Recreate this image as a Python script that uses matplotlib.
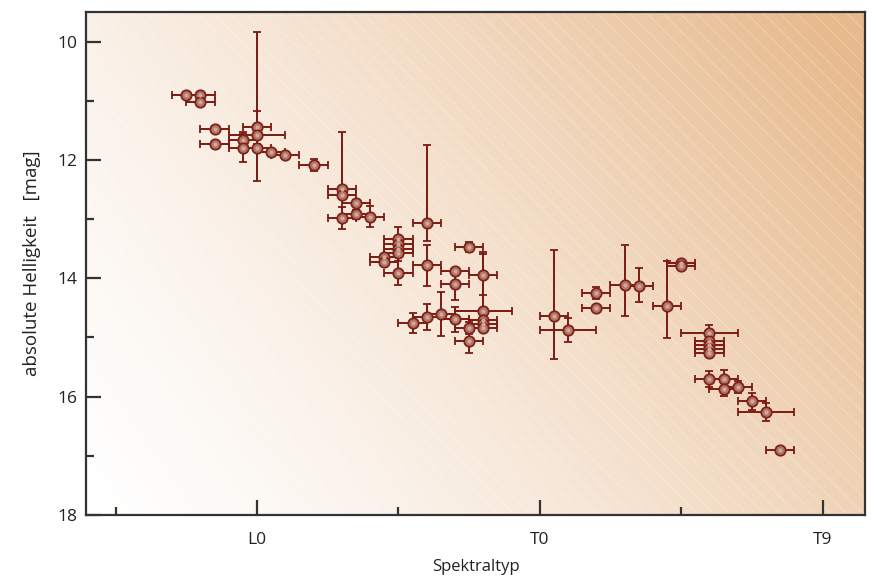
import numpy as np
import matplotlib
matplotlib.use("Agg")
import matplotlib.pyplot as plt
from matplotlib.patches import Rectangle

plt.rcParams['font.family'] = ['Open Sans', 'DejaVu Sans']
plt.rcParams['hatch.linewidth'] = 0.6

# spectral type (L0 = 0, T0 = 10), absolute magnitude, errors
spt = [-2.5, -2.0, -2.0, -1.5, -1.5, -0.5, -0.5, 0.0, 0.0, 0.0, 0.5, 1.0, 2.0,
       3.0, 3.0, 3.0, 3.5, 3.5, 4.0, 4.5, 4.5, 5.0, 5.0, 5.0, 5.0, 5.0,
       6.0, 6.0, 7.5, 7.0, 7.0, 8.0,
       5.5, 6.0, 6.5, 7.0, 7.5, 7.5, 8.0, 8.0, 8.0, 8.0,
       10.5, 11.0, 12.0, 12.0, 13.0, 13.5, 14.5, 15.0, 15.0,
       16.0, 16.0, 16.0, 16.0, 16.0, 16.0, 16.5, 16.5, 17.0, 17.5, 18.0, 18.5]
mag = [10.90, 10.90, 11.02, 11.47, 11.73, 11.67, 11.80, 11.45, 11.58, 11.79, 11.86, 11.91, 12.08,
       12.49, 12.60, 12.98, 12.73, 12.92, 12.96, 13.64, 13.72, 13.33, 13.42, 13.50, 13.57, 13.91,
       13.07, 13.78, 13.47, 13.87, 14.09, 13.94,
       14.76, 14.66, 14.60, 14.69, 14.84, 15.06, 14.56, 14.70, 14.77, 14.84,
       14.63, 14.87, 14.25, 14.50, 14.11, 14.13, 14.47, 13.74, 13.79,
       14.92, 15.06, 15.13, 15.20, 15.26, 15.70, 15.70, 15.87, 15.83, 16.08, 16.26, 16.91]
spt_err = [0.5, 0.5, 0.5, 0.5, 0.5, 0.5, 0.5, 0.5, 1.0, 0.5, 0.5, 0.5, 0.5,
           0.5, 0.5, 0.5, 0.5, 0.5, 0.5, 0.5, 0.5, 0.5, 0.5, 0.5, 0.5, 0.5,
           0.5, 0.5, 0.5, 0.5, 0.5, 0.5,
           0.5, 0.5, 0.5, 0.5, 0.5, 0.5, 1.0, 0.5, 0.5, 0.5,
           0.5, 1.0, 0.5, 0.5, 0.5, 0.5, 0.5, 0.5, 0.5,
           1.0, 0.5, 0.5, 0.5, 0.5, 0.5, 0.5, 0.5, 0.5, 0.5, 1.0, 0.5]
mag_err_up = [0.05, 0.05, 0.05, 0.05, 0.05, 0.15, 0.24, 0.28, 0.05, 1.96, 0.05, 0.05, 0.10,
              0.97, 0.05, 0.18, 0.05, 0.07, 0.18, 0.05, 0.05, 0.20, 0.05, 0.05, 0.05, 0.20,
              1.33, 0.35, 0.08, 0.05, 0.27, 0.35,
              0.17, 0.22, 0.37, 0.21, 0.10, 0.20, 1.00, 0.05, 0.05, 0.05,
              1.11, 0.20, 0.10, 0.05, 0.68, 0.31, 0.77, 0.05, 0.05,
              0.13, 0.05, 0.05, 0.05, 0.07, 0.13, 0.15, 0.12, 0.10, 0.14, 0.15, 0.05]
mag_err_lo = [0.05, 0.05, 0.05, 0.05, 0.05, 0.15, 0.24, 0.28, 0.05, 0.57, 0.05, 0.05, 0.10,
              0.10, 0.05, 0.18, 0.05, 0.07, 0.18, 0.05, 0.05, 0.20, 0.05, 0.05, 0.05, 0.21,
              0.30, 0.35, 0.08, 0.05, 0.27, 0.35,
              0.17, 0.22, 0.37, 0.21, 0.10, 0.20, 0.10, 0.05, 0.05, 0.05,
              0.73, 0.20, 0.10, 0.05, 0.52, 0.27, 0.54, 0.05, 0.05,
              0.13, 0.05, 0.05, 0.05, 0.07, 0.13, 0.15, 0.12, 0.10, 0.14, 0.15, 0.05]

tick_pos = [-5, 0, 5, 10, 15, 20]
tick_labels = ['', 'L0', '', 'T0', '', 'T9']

fig = plt.figure(figsize=(8.79, 5.81), dpi=100)
ax = fig.add_axes([0.0978, 0.1136, 0.8862, 0.8657])

xmin, xmax = -6.05, 21.5
ymin, ymax = 18.0, 9.5

# background gradient, white bottom-left to tan top-right
u = np.linspace(0, 1, 400)
v = np.linspace(0, 1, 300)
U, V = np.meshgrid(u, v)
t = np.clip(0.72 * U + 0.32 * V, 0, 1) ** 1.35
c0 = np.array([255, 255, 255]) / 255
c1 = np.array([231, 186, 141]) / 255
img = c0[None, None, :] + t[:, :, None] * (c1 - c0)[None, None, :]
ax.imshow(img, origin='lower', extent=[xmin, xmax, ymin, ymax], aspect='auto', zorder=0)
ax.add_patch(Rectangle((xmin, ymax), xmax - xmin, ymin - ymax, facecolor='none',
                       edgecolor=(1, 1, 1, 0.3), hatch='\\\\', linewidth=0, zorder=0.5))

ax.errorbar(spt, mag, xerr=spt_err, yerr=[mag_err_up, mag_err_lo], fmt='o',
            color='#7a1a12', ecolor='#7a1a12', elinewidth=1.4, capsize=3, capthick=1.4,
            markersize=7.5, markerfacecolor='#b27466', markeredgecolor='#7d2418',
            markeredgewidth=1.3, zorder=3)
ax.plot(spt, mag, 'o', markersize=3, color='#d2a89c', markeredgewidth=0, zorder=4)

ax.set_xlim(xmin, xmax)
ax.set_ylim(ymin, ymax)
ax.set_xticks(tick_pos)
ax.set_xticklabels(tick_labels)
ax.set_xticks([], minor=True)
ax.set_yticks([10, 12, 14, 16, 18])
ax.set_yticks([11, 13, 15, 17], minor=True)
ax.tick_params(axis='both', which='major', direction='in', length=11, width=1.6,
               colors='#333333', labelcolor='#222222', labelsize=12.5, pad=6)
ax.tick_params(axis='x', which='major', pad=12)
ax.tick_params(axis='both', which='minor', direction='in', length=6, width=1.6, colors='#333333')
# short ticks for unlabeled x positions
for tl, lab in zip(ax.xaxis.get_major_ticks(), tick_labels):
    if lab == '':
        tl.tick1line.set_markersize(6)
for s in ax.spines.values():
    s.set_color('#333333')
    s.set_linewidth(1.6)

ax.set_xlabel('Spektraltyp', fontsize=12, color='#222222', labelpad=8)
ax.set_ylabel('absolute Helligkeit   [mag]', fontsize=13.5, color='#222222', labelpad=12)

fig.savefig('out.png', dpi=100)
